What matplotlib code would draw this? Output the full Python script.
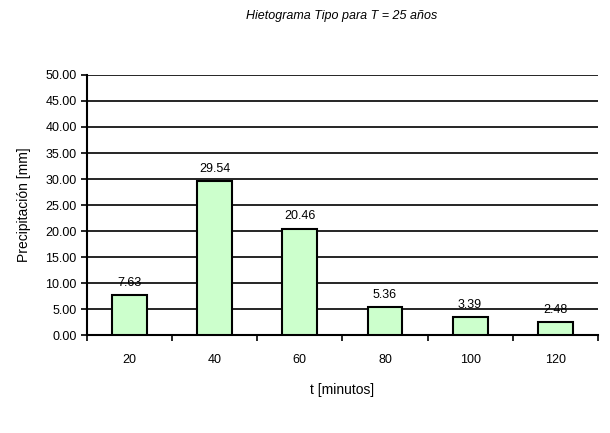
import matplotlib
matplotlib.use("Agg")
import matplotlib.pyplot as plt
import numpy as np

plt.rcParams['font.family'] = ['Liberation Sans Narrow', 'Liberation Sans', 'DejaVu Sans']

categories = ['20', '40', '60', '80', '100', '120']
precip = [7.63, 29.54, 20.46, 5.36, 3.39, 2.48]
labels = ['7.63', '29.54', '20.46', '5.36', '3.39', '2.48']

fig = plt.figure(figsize=(6.1, 4.33), dpi=100)
ax = fig.add_axes([0.1426, 0.2263, 0.8374, 0.6005])

x = np.arange(len(categories))
ax.bar(x, precip, width=0.41, color='#ccffcc', edgecolor='black', linewidth=1.5, zorder=3)
for xi, v, lab in zip(x, precip, labels):
    ax.text(xi, v + 1.2, lab, ha='center', va='bottom', fontsize=9)

ax.set_xlim(-0.5, len(categories) - 0.5)
ax.set_ylim(0, 50)
ax.set_yticks(np.arange(0, 50.1, 5))
ax.set_yticklabels(['%.2f' % t for t in np.arange(0, 50.1, 5)], fontsize=9)
ax.yaxis.grid(True, color='black', linewidth=1.2, zorder=0)

ax.set_xticks(np.arange(-0.5, len(categories), 1))
ax.set_xticklabels([])
ax.set_xticks(x, minor=True)
ax.set_xticklabels(categories, minor=True, fontsize=9)
ax.tick_params(axis='x', which='minor', length=0, pad=14)
ax.tick_params(axis='x', which='major', length=4, width=1.2, direction='out')
ax.tick_params(axis='y', length=4, width=1.2, direction='out')

for s in ['top', 'right']:
    ax.spines[s].set_visible(False)
for s in ['left', 'bottom']:
    ax.spines[s].set_linewidth(1.5)

ax.set_xlabel('t [minutos]', fontsize=10, labelpad=12)
ax.set_ylabel('Precipitación [mm]', fontsize=10, labelpad=10)
fig.text(0.56, 0.963, 'Hietograma Tipo para T = 25 años', ha='center', va='center',
         fontsize=9, style='italic')

fig.savefig('out.png', dpi=100)
